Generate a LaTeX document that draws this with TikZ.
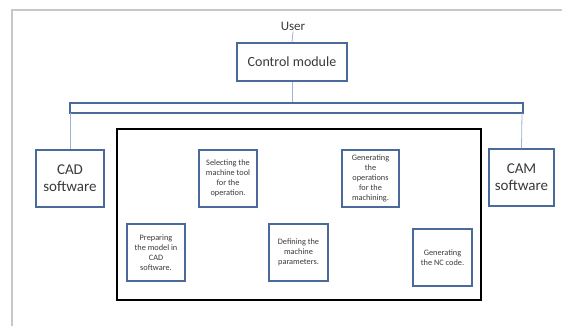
\documentclass[tikz,border=0pt]{standalone}
\usepackage{fontspec}
\setmainfont{Carlito}
\definecolor{boxblue}{HTML}{4A6A9C}
\definecolor{lineblue}{HTML}{9DB3D3}
\definecolor{txt}{HTML}{3A3A3A}
\definecolor{framegray}{HTML}{C8C8C8}
\begin{document}
\begin{tikzpicture}[x=1pt,y=-1pt,
  bluebox/.style={draw=boxblue,line width=1.3pt,fill=white,inner sep=0pt,align=center,text=txt},
  smallbox/.style={bluebox,minimum width=57pt,minimum height=57pt,font=\fontsize{8.3}{10}\selectfont},
  conn/.style={draw=lineblue,line width=0.8pt}]
\useasboundingbox (0,0) rectangle (562,326);
\fill[white] (0,0) rectangle (562,326);
\draw[framegray,line width=1.2pt] (12,326) -- (12,10) -- (562,10);
% nodes
\node[text=txt,font=\fontsize{13}{15}\selectfont,inner sep=1pt] (user) at (293,26) {User};
\node[bluebox,minimum width=110pt,minimum height=38pt,font=\fontsize{14}{16}\selectfont] (ctrl) at (292,62) {Control module};
\node[draw=boxblue,line width=1.3pt,fill=white,minimum width=453pt,minimum height=10pt,inner sep=0pt] (bar) at (296.5,108) {};
\coordinate (cadtop) at (70,113);
\coordinate (camtop) at (522,113);
\node[bluebox,minimum width=68pt,minimum height=57pt,font=\fontsize{15}{17}\selectfont] (cad) at (70,178.5) {CAD\\software};
\node[bluebox,minimum width=65pt,minimum height=57pt,font=\fontsize{15}{17}\selectfont] (cam) at (521.5,177.5) {CAM\\software};
\node[draw=black,line width=2pt,minimum width=364pt,minimum height=171pt,inner sep=0pt] (big) at (299,214.5) {};
\node[smallbox,minimum width=58pt] (sel) at (228,178.5) {Selecting the\\machine tool\\for the\\operation.};
\node[smallbox] (gen) at (370.5,178.5) {Generating\\the\\operations\\for the\\machining.};
\node[smallbox,minimum width=58pt] (prep) at (156,252.5) {Preparing\\the model in\\CAD\\software.};
\node[smallbox,minimum width=59pt] (def) at (298.5,252.5) {Defining the\\machine\\parameters.};
\node[smallbox,minimum width=59pt] (nc) at (442.5,257.5) {Generating\\the NC code.};
% connectors
\draw[conn] (user.south) -- (ctrl.north);
\draw[conn] (ctrl.south) -- (ctrl.south |- bar.north);
\draw[conn] (cadtop) -- (cad.north);
\draw[conn] (camtop) -- (cam.north);
\end{tikzpicture}
\end{document}
